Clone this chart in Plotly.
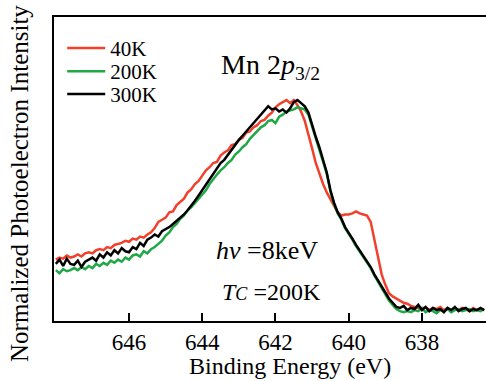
import numpy as np
import plotly.graph_objects as go

# Binding energy grid (eV), 648.0 down to 636.3 in 0.1 eV steps
energy = np.round(648.0 - 0.1 * np.arange(118), 1)

intensity_40K = [
    0.24, 0.25, 0.245, 0.26, 0.25, 0.255, 0.265, 0.255, 0.27, 0.275,
    0.27, 0.285, 0.29, 0.285, 0.30, 0.295, 0.31, 0.315, 0.32, 0.33,
    0.325, 0.34, 0.335, 0.35, 0.345, 0.36, 0.37, 0.39, 0.42, 0.43,
    0.44, 0.465, 0.47, 0.50, 0.515, 0.53, 0.56, 0.575, 0.60, 0.615,
    0.64, 0.665, 0.68, 0.70, 0.705, 0.735, 0.75, 0.76, 0.785, 0.79,
    0.81, 0.82, 0.845, 0.85, 0.87, 0.88, 0.90, 0.905, 0.925, 0.94,
    0.965, 0.98, 0.99, 1.0, 0.985, 1.0, 0.975, 0.945, 0.90, 0.84,
    0.77, 0.70, 0.645, 0.60, 0.56, 0.53, 0.50, 0.465, 0.45, 0.455,
    0.455, 0.46, 0.47, 0.46, 0.455, 0.45, 0.42, 0.34, 0.26, 0.17,
    0.12, 0.08, 0.065, 0.055, 0.045, 0.035, 0.03, 0.02, 0.015, 0.01,
    0.005, 0.015, 0.0, 0.01, 0.005, 0.015, 0.0, 0.01, -0.005, 0.01,
    0.0, 0.01, 0.005, -0.005, 0.01, 0.0, 0.005, 0.0,
]

intensity_200K = [
    0.19, 0.175, 0.195, 0.185, 0.19, 0.20, 0.19, 0.205, 0.195, 0.21,
    0.20, 0.22, 0.21, 0.225, 0.215, 0.235, 0.225, 0.24, 0.23, 0.25,
    0.24, 0.26, 0.265, 0.255, 0.28, 0.27, 0.29, 0.30, 0.315, 0.33,
    0.355, 0.37, 0.395, 0.41, 0.435, 0.45, 0.475, 0.49, 0.51, 0.53,
    0.555, 0.57, 0.60, 0.625, 0.645, 0.665, 0.68, 0.70, 0.715, 0.74,
    0.755, 0.775, 0.79, 0.815, 0.835, 0.85, 0.87, 0.88, 0.90, 0.905,
    0.89, 0.92, 0.93, 0.945, 0.95, 0.955, 0.965, 0.96, 0.955, 0.93,
    0.875, 0.82, 0.77, 0.715, 0.65, 0.565, 0.505, 0.46, 0.43, 0.39,
    0.365, 0.335, 0.305, 0.28, 0.255, 0.23, 0.20, 0.165, 0.135, 0.10,
    0.07, 0.045, 0.025, 0.005, -0.005, -0.01, -0.005, -0.01, 0.0, -0.005,
    0.01, -0.01, 0.0, -0.005, -0.015, 0.0, -0.005, 0.005, -0.01, 0.0,
    0.005, -0.005, 0.0, 0.005, -0.005, 0.0, -0.005, 0.005,
]

intensity_300K = [
    0.22, 0.24, 0.21, 0.245, 0.22, 0.215, 0.235, 0.205, 0.23, 0.24,
    0.25, 0.235, 0.265, 0.25, 0.275, 0.26, 0.285, 0.27, 0.295, 0.28,
    0.275, 0.30, 0.29, 0.32, 0.305, 0.335, 0.345, 0.36, 0.35, 0.375,
    0.385, 0.395, 0.41, 0.425, 0.44, 0.455, 0.475, 0.495, 0.52, 0.545,
    0.57, 0.60, 0.625, 0.65, 0.675, 0.70, 0.715, 0.74, 0.765, 0.785,
    0.81, 0.83, 0.85, 0.87, 0.89, 0.915, 0.93, 0.955, 0.97, 0.955,
    0.96, 0.945, 0.955, 0.94, 0.96, 0.99, 1.0, 0.985, 0.97, 0.94,
    0.88, 0.825, 0.775, 0.72, 0.655, 0.57, 0.51, 0.465, 0.435, 0.395,
    0.37, 0.34, 0.31, 0.285, 0.26, 0.235, 0.205, 0.17, 0.14, 0.11,
    0.08, 0.055, 0.035, 0.015, 0.01, 0.02, 0.0, 0.01, 0.005, 0.025,
    0.0, 0.015, -0.005, 0.01, 0.0, 0.005, -0.01, 0.01, 0.0, 0.015,
    -0.005, 0.005, 0.01, -0.005, 0.005, 0.0, 0.01, 0.0,
]

series_names = ["40K", "200K", "300K"]
series_colors = ["#f2402c", "#1fa845", "#000000"]
tick_values = [646, 644, 642, 640, 638]
tick_labels = ["646", "644", "642", "640", "638"]

FONT = "Liberation Serif"
legend_ids = ["legend", "legend2", "legend3"]
legend_tops = [0.964, 0.888, 0.813]

fig = go.Figure()
for name, ys, col, lid in zip(series_names, [intensity_40K, intensity_200K, intensity_300K],
                              series_colors, legend_ids):
    fig.add_trace(go.Scatter(x=energy, y=ys, mode="lines", name=name, legend=lid,
                             line=dict(color=col, width=2.5)))

legend_common = dict(x=0.019, xanchor="left", yanchor="top", itemwidth=38,
                     font=dict(family=FONT, size=21), bgcolor="rgba(0,0,0,0)")

fig.update_layout(
    width=486, height=381,
    margin=dict(l=54, r=0, t=17, b=60),
    plot_bgcolor="white", paper_bgcolor="white",
    font=dict(family=FONT, color="black"),
    showlegend=True,
    legend=dict(y=legend_tops[0], **legend_common),
    legend2=dict(y=legend_tops[1], **legend_common),
    legend3=dict(y=legend_tops[2], **legend_common),
    xaxis=dict(range=[648.05, 636.25], tickvals=tick_values, ticktext=tick_labels,
               ticks="inside", ticklen=8, tickwidth=1.5, tickcolor="black",
               showline=True, linecolor="black", linewidth=1.5, mirror=True,
               showgrid=False, zeroline=False,
               tickfont=dict(family=FONT, size=23)),
    yaxis=dict(range=[-0.052, 1.395], showticklabels=False, ticks="",
               showline=True, linecolor="black", linewidth=1.5, mirror=False,
               showgrid=False, zeroline=False),
    annotations=[
        dict(text="Normalized Photoelectron Intensity", textangle=-90,
             xref="paper", yref="paper", x=-0.0787, y=0.4507,
             xanchor="center", yanchor="middle", showarrow=False,
             font=dict(family=FONT, size=25)),
        dict(text="Binding Energy (eV)", xref="paper", yref="paper",
             x=0.5456, y=-0.148, xanchor="center", yanchor="middle",
             showarrow=False, font=dict(family=FONT, size=24)),
        dict(text="Mn 2<i>p</i><sub>3/2</sub>", xref="paper", yref="paper",
             x=(219 - 54) / 432, y=(321 - 66) / 304, xanchor="left", yanchor="middle",
             showarrow=False, font=dict(family=FONT, size=28)),
        dict(text="<i>hv</i> =8keV", xref="paper", yref="paper",
             x=(214 - 54) / 432, y=(321 - 250) / 304, xanchor="left", yanchor="middle",
             showarrow=False, font=dict(family=FONT, size=26)),
        dict(text="<i>T<span style='font-size:18px'>C</span></i> =200K", xref="paper", yref="paper",
             x=(220 - 54) / 432, y=(321 - 292) / 304, xanchor="left", yanchor="middle",
             showarrow=False, font=dict(family=FONT, size=24)),
    ],
)

fig.write_html("out.html")
